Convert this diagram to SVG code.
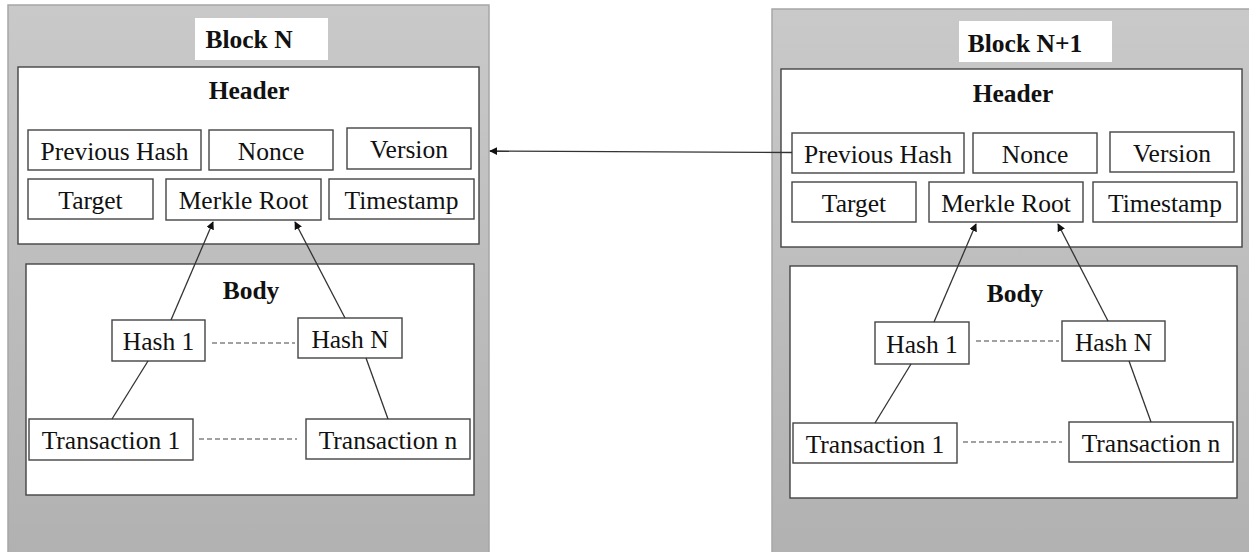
<svg xmlns="http://www.w3.org/2000/svg" width="1249" height="552" viewBox="0 0 1249 552">
<defs>
<linearGradient id="panelGrad" x1="0" y1="0" x2="0" y2="1">
<stop offset="0" stop-color="#c9c9c9"/>
<stop offset="1" stop-color="#b1b1b1"/>
</linearGradient>
<marker id="arrow" viewBox="0 0 10 10" refX="9" refY="5" markerWidth="8" markerHeight="8" markerUnits="userSpaceOnUse" orient="auto">
<path d="M0,0 L10,5 L0,10 z" fill="#111"/>
</marker>
</defs>
<style>
.panel{fill:url(#panelGrad);stroke:#a6a6a6;stroke-width:1.5}
.label{fill:#fff;stroke:none}
.box{fill:#fff;stroke:#444;stroke-width:1.4}
.t{font-family:"Liberation Serif","Times New Roman",serif;font-size:25.5px;fill:#111;text-anchor:middle}
.b{font-family:"Liberation Serif","Times New Roman",serif;font-size:25.5px;font-weight:bold;fill:#111;text-anchor:middle}
.line{stroke:#333;stroke-width:1.3;fill:none}
.dash{stroke:#444;stroke-width:1.2;stroke-dasharray:5,3;fill:none}
</style>

<g id="blockN">
<rect class="panel" x="8" y="5" width="481" height="552"/>
<rect class="label" x="195" y="18" width="133" height="42"/>
<text class="b" x="249" y="48">Block N</text>
</g>
<g id="headerN">
<rect class="box" x="18" y="67" width="461" height="177"/>
<text class="b" x="249" y="99">Header</text>
</g>
<g id="prevHashN"><rect class="box" x="28" y="130" width="173" height="40"/><text class="t" x="114.5" y="160">Previous Hash</text></g>
<g id="nonceN"><rect class="box" x="209" y="130" width="124" height="40"/><text class="t" x="271" y="160">Nonce</text></g>
<g id="versionN"><rect class="box" x="347" y="128" width="124" height="41"/><text class="t" x="409" y="158">Version</text></g>
<g id="targetN"><rect class="box" x="28" y="179" width="125" height="40"/><text class="t" x="90.5" y="209">Target</text></g>
<g id="merkleN"><rect class="box" x="166" y="179" width="155" height="41"/><text class="t" x="243.5" y="209">Merkle Root</text></g>
<g id="timestampN"><rect class="box" x="329" y="179" width="145" height="40"/><text class="t" x="401.5" y="209">Timestamp</text></g>
<g id="bodyN">
<rect class="box" x="26" y="264" width="448" height="231"/>
<text class="b" x="251" y="299">Body</text>
</g>
<g id="hash1N"><rect class="box" x="112" y="320" width="93" height="41"/><text class="t" x="158.5" y="350">Hash 1</text></g>
<g id="hashNN"><rect class="box" x="298" y="318" width="104" height="40"/><text class="t" x="350" y="348">Hash N</text></g>
<g id="tx1N"><rect class="box" x="29" y="419" width="164" height="41"/><text class="t" x="111" y="449">Transaction 1</text></g>
<g id="txnN"><rect class="box" x="306" y="419" width="164" height="40"/><text class="t" x="388" y="449">Transaction n</text></g>

<g id="blockN1">
<rect class="panel" x="772" y="9" width="480" height="552"/>
<rect class="label" x="959" y="21" width="153" height="41"/>
<text class="b" x="1025" y="52">Block N+1</text>
</g>
<g id="headerN1">
<rect class="box" x="781" y="69" width="461" height="178"/>
<text class="b" x="1013" y="102">Header</text>
</g>
<g id="prevHashN1"><rect class="box" x="792" y="133" width="172" height="40"/><text class="t" x="878" y="163">Previous Hash</text></g>
<g id="nonceN1"><rect class="box" x="973" y="133" width="124" height="40"/><text class="t" x="1035" y="163">Nonce</text></g>
<g id="versionN1"><rect class="box" x="1110" y="132" width="124" height="40"/><text class="t" x="1172" y="162">Version</text></g>
<g id="targetN1"><rect class="box" x="792" y="182" width="124" height="40"/><text class="t" x="854" y="212">Target</text></g>
<g id="merkleN1"><rect class="box" x="929" y="182" width="154" height="40"/><text class="t" x="1006" y="212">Merkle Root</text></g>
<g id="timestampN1"><rect class="box" x="1093" y="182" width="144" height="40"/><text class="t" x="1165" y="212">Timestamp</text></g>
<g id="bodyN1">
<rect class="box" x="790" y="266" width="447" height="232"/>
<text class="b" x="1015" y="302">Body</text>
</g>
<g id="hash1N1"><rect class="box" x="875" y="322" width="94" height="42"/><text class="t" x="922" y="353">Hash 1</text></g>
<g id="hashNN1"><rect class="box" x="1062" y="321" width="103" height="40"/><text class="t" x="1113.5" y="351">Hash N</text></g>
<g id="tx1N1"><rect class="box" x="793" y="423" width="164" height="40"/><text class="t" x="875" y="453">Transaction 1</text></g>
<g id="txnN1"><rect class="box" x="1069" y="422" width="164" height="40"/><text class="t" x="1151" y="452">Transaction n</text></g>

<g id="connectors">
<line class="line" x1="792" y1="152.5" x2="490" y2="151" marker-end="url(#arrow)"/>
<line class="line" x1="171" y1="320" x2="213" y2="222" marker-end="url(#arrow)"/>
<line class="line" x1="345" y1="318" x2="295" y2="222" marker-end="url(#arrow)"/>
<line class="line" x1="148" y1="361" x2="112" y2="419"/>
<line class="line" x1="366" y1="358" x2="388" y2="419"/>
<line class="dash" x1="212" y1="343" x2="295" y2="343"/>
<line class="dash" x1="199" y1="439" x2="297" y2="439"/>
<line class="line" x1="934" y1="322" x2="976" y2="224" marker-end="url(#arrow)"/>
<line class="line" x1="1108" y1="321" x2="1058" y2="224" marker-end="url(#arrow)"/>
<line class="line" x1="911" y1="364" x2="875" y2="423"/>
<line class="line" x1="1129" y1="361" x2="1151" y2="422"/>
<line class="dash" x1="976" y1="341" x2="1059" y2="341"/>
<line class="dash" x1="963" y1="442" x2="1062" y2="442"/>
</g>
</svg>
